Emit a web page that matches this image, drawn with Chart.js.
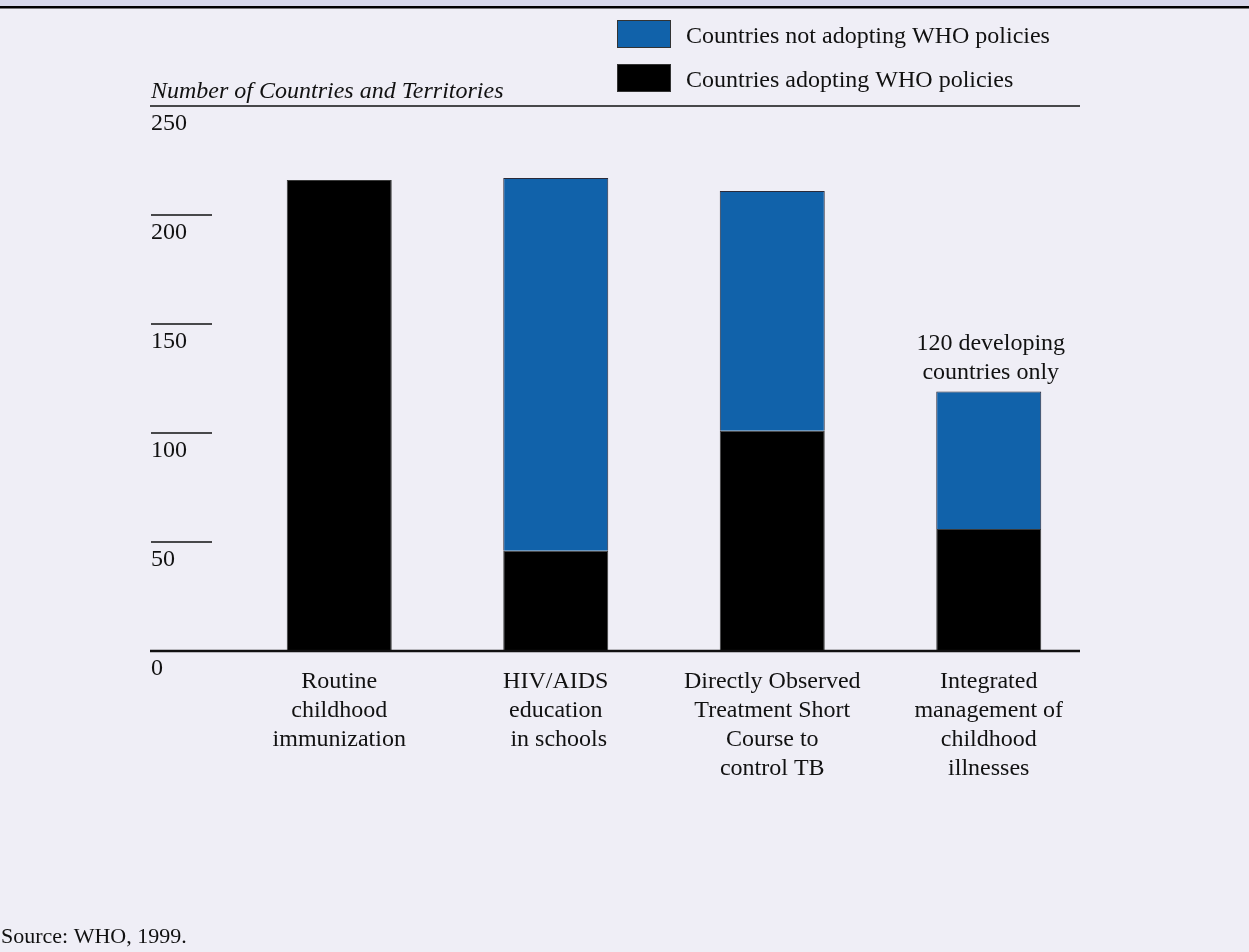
<!DOCTYPE html>
<html lang="en">
<head>
  <meta charset="UTF-8" />
  <title>WHO policies adoption</title>
  <script src="https://cdn.jsdelivr.net/npm/chart.js"></script>
  <style>
    body {
      margin: 0;
      background-color: #efeef6;
    }
    #wrap {
      width: 1249px;
      height: 952px;
    }
  </style>
</head>
<body>

<div id="wrap">
  <canvas id="policyChart" width="1249" height="952"></canvas>
</div>

<script>
// Data
const categories = [
  ['Routine', 'childhood', 'immunization'],
  ['HIV/AIDS', 'education', ' in schools'],
  ['Directly Observed', 'Treatment Short', 'Course to', 'control TB'],
  ['Integrated', 'management of', 'childhood', 'illnesses']
];
const adopting = [216, 46, 101, 56];      // black part
const notAdopting = [0, 171, 110, 63];    // blue part
const yTicks = [0, 50, 100, 150, 200, 250];
const seriesNames = ['Countries adopting WHO policies', 'Countries not adopting WHO policies'];
const yTitle = 'Number of Countries and Territories';
const note = ['120 developing', 'countries only'];
const source = 'Source: WHO, 1999.';

const BLUE = '#1162aa';
const BLACK = '#000000';
const INK = '#111111';
const SERIF = '"Liberation Serif", "Times New Roman", serif';

// background, lines and the free text around the plot
const decorations = {
  id: 'decorations',
  beforeDraw(chart) {
    const c = chart.ctx;
    c.save();
    c.fillStyle = '#efeef6';
    c.fillRect(0, 0, chart.width, chart.height);
    c.fillStyle = '#d6d7ea';
    c.fillRect(0, 0, chart.width, 6);
    c.fillStyle = '#000';
    c.fillRect(0, 6, chart.width, 2.5);
    c.restore();
  },
  afterDatasetsDraw(chart) {
    const c = chart.ctx;
    const y = chart.scales.y;
    const x = chart.scales.x;
    c.save();

    // line under the axis title (at the top value) and baseline
    c.strokeStyle = '#111';
    c.lineWidth = 1.5;
    c.beginPath();
    c.moveTo(150, y.getPixelForValue(yTicks[yTicks.length - 1]));
    c.lineTo(1080, y.getPixelForValue(yTicks[yTicks.length - 1]));
    c.stroke();

    c.lineWidth = 2.5;
    c.beginPath();
    c.moveTo(150, y.getPixelForValue(0));
    c.lineTo(1080, y.getPixelForValue(0));
    c.stroke();

    // short marks above the inner tick labels
    c.lineWidth = 1.5;
    yTicks.slice(1, -1).forEach(v => {
      const py = y.getPixelForValue(v);
      c.beginPath();
      c.moveTo(151, py);
      c.lineTo(212, py);
      c.stroke();
    });

    // axis title
    c.fillStyle = INK;
    c.font = 'italic 24px ' + SERIF;
    c.textAlign = 'left';
    c.textBaseline = 'alphabetic';
    c.fillText(yTitle, 151, 98);

    // legend
    const items = [
      { color: BLUE, label: seriesNames[1], top: 20 },
      { color: BLACK, label: seriesNames[0], top: 64 }
    ];
    c.font = '24px ' + SERIF;
    items.forEach(it => {
      c.fillStyle = it.color;
      c.fillRect(617, it.top, 53, 27);
      c.strokeStyle = '#333';
      c.lineWidth = 1;
      c.strokeRect(617.5, it.top + 0.5, 53, 27);
      c.fillStyle = INK;
      c.fillText(it.label, 686, it.top + 23);
    });

    // note above the last bar
    const last = categories.length - 1;
    const topPx = y.getPixelForValue(adopting[last] + notAdopting[last]);
    c.textAlign = 'center';
    c.fillText(note[0], x.getPixelForValue(last) + 2, topPx - 42);
    c.fillText(note[1], x.getPixelForValue(last) + 2, topPx - 13);

    // source
    c.textAlign = 'left';
    c.font = '22px ' + SERIF;
    c.fillText(source, 1, 943);
    c.restore();
  }
};

const ctx = document.getElementById('policyChart').getContext('2d');
const policyChart = new Chart(ctx, {
  type: 'bar',
  data: {
    labels: categories,
    datasets: [
      {
        label: seriesNames[0],
        data: adopting,
        backgroundColor: BLACK,
        borderColor: '#3a3a3a',
        borderWidth: 1
      },
      {
        label: seriesNames[1],
        data: notAdopting,
        backgroundColor: BLUE,
        borderColor: '#2a2a3a',
        borderWidth: 1
      }
    ]
  },
  options: {
    responsive: false,
    animation: false,
    barPercentage: 0.485,
    categoryPercentage: 1,
    layout: {
      padding: { left: 151, right: 152, top: 106, bottom: 151 }
    },
    scales: {
      x: {
        stacked: true,
        grid: { display: false, drawTicks: false },
        border: { display: false },
        ticks: {
          color: INK,
          padding: 16,
          maxRotation: 0,
          autoSkip: false,
          font: { family: SERIF, size: 24, lineHeight: 1.21 }
        },
        afterFit(scale) { scale.height = 150; }
      },
      y: {
        stacked: true,
        min: 0,
        max: 250,
        grid: { display: false, drawTicks: false },
        border: { display: false },
        afterBuildTicks(scale) {
          scale.ticks = yTicks.map(v => ({ value: v }));
        },
        ticks: {
          color: INK,
          crossAlign: 'far',
          labelOffset: 18,
          font: { family: SERIF, size: 24 }
        },
        afterFit(scale) { scale.width = 80; }
      }
    },
    plugins: {
      legend: { display: false },
      tooltip: { enabled: false }
    }
  },
  plugins: [decorations]
});
</script>

</body>
</html>
